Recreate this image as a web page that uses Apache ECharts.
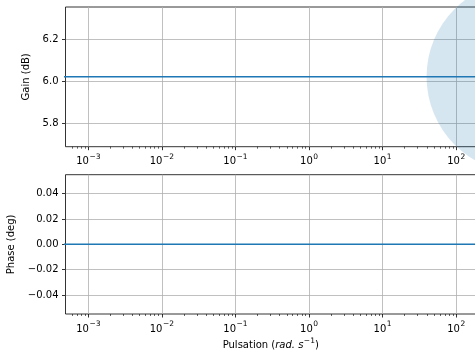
<!DOCTYPE html>
<html><head><meta charset="utf-8">
<script src="https://cdn.jsdelivr.net/npm/echarts@6/dist/echarts.min.js"></script>
<style>html,body{margin:0;padding:0;background:#fff}#c{width:475px;height:350px}</style>
</head><body><div id="c"></div>
<script>
// ---- data ----
const freq = [1e-4, 1e-3, 1e-2, 1e-1, 1e0, 1e1, 1e2, 1e3];
const gainDb = [6.0206, 6.0206, 6.0206, 6.0206, 6.0206, 6.0206, 6.0206, 6.0206];
const phaseDeg = [0, 0, 0, 0, 0, 0, 0, 0];
const markerFreq = [800];
const markerGain = [6.0206];
const xTicks = [1e-3, 1e-2, 1e-1, 1e0, 1e1, 1e2];
const xMinorTicks = [6e-4, 7e-4, 8e-4, 9e-4,
  2e-3, 3e-3, 4e-3, 5e-3, 6e-3, 7e-3, 8e-3, 9e-3,
  2e-2, 3e-2, 4e-2, 5e-2, 6e-2, 7e-2, 8e-2, 9e-2,
  2e-1, 3e-1, 4e-1, 5e-1, 6e-1, 7e-1, 8e-1, 9e-1,
  2, 3, 4, 5, 6, 7, 8, 9,
  20, 30, 40, 50, 60, 70, 80, 90];
const gainTicks = [5.8, 6.0, 6.2];
const phaseTicks = [-0.04, -0.02, 0, 0.02, 0.04];
const xRange = [4.9e-4, 186];
const gainRange = [5.6895, 6.3517];
const phaseRange = [-0.055, 0.055];

// ---- chart ----
const FONT = 'DejaVu Sans';
const minus = s => String(s).replace('-', '\u2212');
const base = {fontFamily: FONT, fontSize: 10, color: '#000', lineHeight: 10, padding: [6, 0, 0, 0]};
const supS = {fontFamily: FONT, fontSize: 7.5, color: '#000', lineHeight: 8, padding: [2.5, 0, 5.5, 0.5]};
const sup = {b: base, s: supS};
function majorX(gridIndex, extra) {
  return Object.assign({
    type: 'log', gridIndex, min: xRange[0], max: xRange[1], position: 'bottom',
    axisLine: {show: false, onZero: false},
    axisTick: {show: true, customValues: xTicks, length: 3.5, lineStyle: {color: '#000', width: 0.8}},
    axisLabel: {customValues: xTicks, margin: 7, rich: sup,
      formatter: v => '{b|10}{s|' + minus(Math.round(Math.log10(v))) + '}'},
    splitLine: {show: true, lineStyle: {color: '#b0b0b0', width: 0.8}},
    minorTick: {show: false}, minorSplitLine: {show: false}
  }, extra || {});
}
function minorX(gridIndex) {
  return {
    type: 'log', gridIndex, min: xRange[0], max: xRange[1], position: 'bottom',
    axisLine: {show: false, onZero: false},
    axisTick: {show: true, customValues: xMinorTicks, length: 2, lineStyle: {color: '#000', width: 0.6}},
    axisLabel: {show: false}, splitLine: {show: false}
  };
}
function yAx(gridIndex, range, ticks, name, gap, fmt) {
  return {
    type: 'value', gridIndex, min: range[0], max: range[1], position: 'left',
    name, nameLocation: 'middle', nameGap: gap,
    nameTextStyle: {fontFamily: FONT, fontSize: 10, color: '#000'},
    axisLine: {show: false, onZero: false},
    axisTick: {show: true, customValues: ticks, length: 3.5, lineStyle: {color: '#000', width: 0.8}},
    axisLabel: {customValues: ticks, margin: 7, fontFamily: FONT, fontSize: 10, color: '#000', formatter: fmt},
    splitLine: {show: true, lineStyle: {color: '#b0b0b0', width: 0.8}}
  };
}
const chart = echarts.init(document.getElementById('c'), null, {renderer: 'canvas'});
chart.setOption({
  animation: false,
  backgroundColor: '#fff',
  grid: [
    {left: 65.5, top: 7, right: -1, height: 139.7, show: true, borderColor: '#000', borderWidth: 0.8, backgroundColor: 'transparent', outerBoundsMode: 'none', containLabel: false},
    {left: 65.5, top: 174.7, right: -1, height: 139.3, show: true, borderColor: '#000', borderWidth: 0.8, backgroundColor: 'transparent', outerBoundsMode: 'none', containLabel: false},
    {left: 65.5, top: -132.7, right: -77.5, height: 279.4, show: false, outerBoundsMode: 'none', containLabel: false}
  ],
  xAxis: [
    majorX(0), minorX(0),
    majorX(1, {name: '{n|Pulsation (}{i|rad. s}{s|\u22121}{n|)}', nameLocation: 'middle', nameGap: 15,
      nameTextStyle: {rich: {
        n: base,
        i: Object.assign({}, base, {fontStyle: 'italic'}),
        s: supS
      }}}),
    minorX(1),
    {type: 'log', gridIndex: 2, min: xRange[0], max: 2042, show: false}
  ],
  yAxis: [
    yAx(0, gainRange, gainTicks, 'Gain (dB)', 28, v => v.toFixed(1)),
    yAx(1, phaseRange, phaseTicks, 'Phase (deg)', 49, v => minus(v.toFixed(2))),
    {type: 'value', gridIndex: 2, min: gainRange[0], max: 7.0139, show: false}
  ],
  series: [
    {type: 'scatter', xAxisIndex: 4, yAxisIndex: 2, clip: true, symbol: 'circle', symbolSize: 192,
      itemStyle: {color: 'rgba(31,119,180,0.23)'}, z: 2,
      data: markerFreq.map((f, i) => [f, markerGain[i]])},
    {type: 'line', xAxisIndex: 0, yAxisIndex: 0, showSymbol: false, clip: true, z: 3,
      lineStyle: {color: '#1f77b4', width: 1.5},
      data: freq.map((f, i) => [f, gainDb[i]])},
    {type: 'line', xAxisIndex: 2, yAxisIndex: 1, showSymbol: false, clip: true, z: 3,
      lineStyle: {color: '#1f77b4', width: 1.5},
      data: freq.map((f, i) => [f, phaseDeg[i]])}
  ]
});
</script></body></html>
